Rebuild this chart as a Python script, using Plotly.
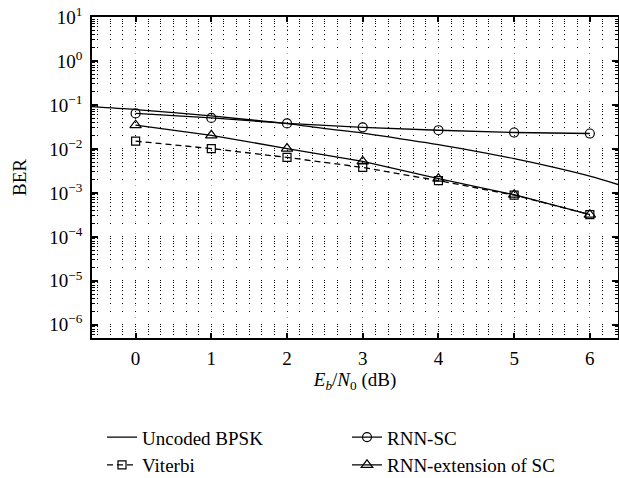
import plotly.graph_objects as go

# ---- data ----
ebn0_curve = [-0.6, 0.0, 0.5, 1.0, 1.5, 2.0, 2.5, 3.0, 3.5, 4.0, 4.5, 5.0, 5.5, 6.0, 6.4]
ber_uncoded = [0.092, 0.0786, 0.067, 0.0563, 0.046, 0.0375, 0.029, 0.0229, 0.017,
               0.0125, 0.0088, 0.0060, 0.0039, 0.0024, 0.0015]

ebn0_pts = [0, 1, 2, 3, 4, 5, 6]
ber_viterbi = [0.0150, 0.0102, 0.0064, 0.0038, 0.0019, 0.00089, 0.00032]
ber_rnn_sc = [0.064, 0.0507, 0.038, 0.031, 0.0266, 0.0236, 0.0224]
ber_rnn_ext = [0.0346, 0.0204, 0.0102, 0.0052, 0.0021, 0.00091, 0.00032]

y_tick_exps = [1, 0, -1, -2, -3, -4, -5, -6]
y_tick_text = ["10<sup>%s</sup>" % (str(e) if e >= 0 else "\u2212" + str(-e)) for e in y_tick_exps]
x_ticks = [0, 1, 2, 3, 4, 5, 6]

FONT = "Liberation Serif"
FS = 19
BLACK = "#000000"

fig = go.Figure()

fig.add_trace(go.Scatter(
    x=ebn0_curve, y=ber_uncoded, mode="lines", name="Uncoded BPSK",
    line=dict(color=BLACK, width=1.3, shape="spline"),
))
fig.add_trace(go.Scatter(
    x=ebn0_pts, y=ber_rnn_sc, mode="lines+markers", name="RNN-SC",
    line=dict(color=BLACK, width=1.3),
    marker=dict(symbol="circle-open", size=9, color=BLACK, line=dict(width=1.2, color=BLACK)),
))
fig.add_trace(go.Scatter(
    x=ebn0_pts, y=ber_viterbi, mode="lines+markers", name="Viterbi",
    line=dict(color=BLACK, width=1.3, dash="6px,4px"),
    marker=dict(symbol="square-open", size=8, color=BLACK, line=dict(width=1.2, color=BLACK)),
))
fig.add_trace(go.Scatter(
    x=ebn0_pts, y=ber_rnn_ext, mode="lines+markers", name="RNN-extension of SC",
    line=dict(color=BLACK, width=1.3),
    marker=dict(symbol="triangle-up-open", size=10, color=BLACK, line=dict(width=1.2, color=BLACK)),
))

fig.update_layout(
    width=619, height=478,
    margin=dict(l=92, r=1, t=17, b=140, autoexpand=False),
    paper_bgcolor="white", plot_bgcolor="white",
    font=dict(family=FONT, size=FS, color=BLACK),
    showlegend=True,
    legend=dict(
        orientation="h", x=0.019, xanchor="left",
        yref="container", y=0.125, yanchor="top",
        entrywidth=200, entrywidthmode="pixels",
        font=dict(family=FONT, size=FS, color=BLACK),
        bgcolor="rgba(0,0,0,0)", tracegroupgap=0,
    ),
    xaxis=dict(
        range=[-0.576, 6.372], tickvals=x_ticks,
        showline=True, linecolor=BLACK, linewidth=1.5, mirror="ticks",
        ticks="inside", ticklen=5, tickcolor=BLACK, tickwidth=1.5,
        ticklabelstandoff=2,
        showgrid=True, gridcolor="rgba(0,0,0,0.35)", gridwidth=1, griddash="1px,11px",
        zeroline=False, automargin=False,
        title=dict(text="<i>E</i><sub><i>b</i></sub>/<i>N</i><sub>0</sub> (dB)",
                   font=dict(family=FONT, size=FS), standoff=4),
    ),
    yaxis=dict(
        type="log", range=[-6.3, 1],
        tickvals=[10 ** e for e in y_tick_exps], ticktext=y_tick_text,
        showline=True, linecolor=BLACK, linewidth=1.5, mirror="ticks",
        ticks="inside", ticklen=6, tickcolor=BLACK, tickwidth=1.5,
        ticklabelstandoff=4,
        showgrid=True, gridcolor=BLACK, gridwidth=1,
        griddash="0px,5.25px,1px,6.37px",
        zeroline=False, automargin=False,
        minor=dict(dtick="D1", ticks="inside", ticklen=3, tickcolor=BLACK, tickwidth=1,
                   showgrid=True, gridcolor=BLACK, gridwidth=1,
                   griddash="0px,5.25px,1px,6.37px"),
        title=dict(text="BER", font=dict(family=FONT, size=FS), standoff=18),
    ),
)

fig.write_html("out.html")
